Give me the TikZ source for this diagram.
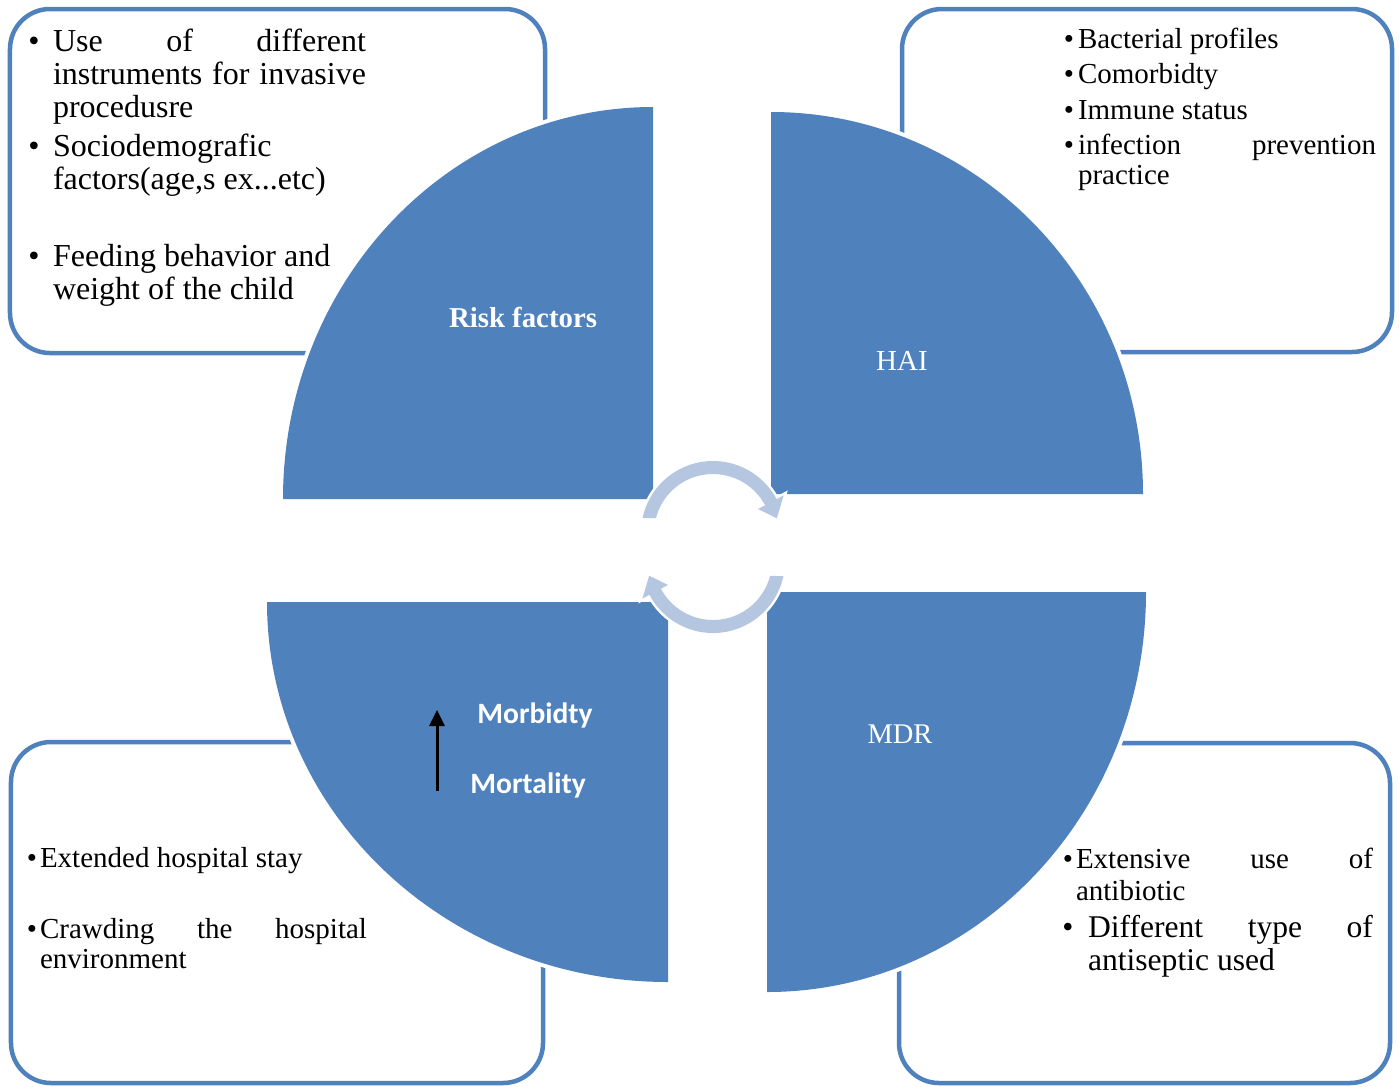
\documentclass[tikz,border=0pt]{standalone}
\usepackage{fontspec}
\setmainfont{Liberation Serif}
\newfontfamily\calibri{Carlito}
\usetikzlibrary{arrows.meta}
\definecolor{mainblue}{HTML}{4F81BD}
\definecolor{cycblue}{HTML}{B4C6E0}
\begin{document}
\begin{tikzpicture}[x=1bp,y=1bp,
  box/.style={draw=mainblue, line width=4.5bp, rounded corners=40bp, fill=white, inner sep=0pt},
  quad/.style={fill=mainblue, preaction={draw=white, line width=8bp}},
  cyc/.style={fill=cycblue, preaction={draw=white, line width=5bp}},
  ln/.style={anchor=base west, inner sep=0pt, outer sep=0pt},
  bul/.style={anchor=base, inner sep=0pt, outer sep=0pt},
  fA/.style={font=\fontsize{32bp}{33bp}\selectfont},
  fB/.style={font=\fontsize{29bp}{30bp}\selectfont},
  fC/.style={font=\fontsize{31.6bp}{33bp}\selectfont},
  lab/.style={anchor=base, inner sep=0pt, text=white},
]
\fill[white] (0,0) rectangle (1399,-1086);
\useasboundingbox (0,0) rectangle (1399,-1086);

% boxes
\node[box, minimum width=535bp, minimum height=344bp] (tlbox) at (277.5,-181) {};
\node[box, minimum width=490bp, minimum height=343bp] (trbox) at (1147,-180.5) {};
\node[box, minimum width=532bp, minimum height=341bp] (blbox) at (277,-912.5) {};
\node[box, minimum width=491bp, minimum height=340bp] (brbox) at (1144.5,-913) {};

% quarter shapes
\path[quad] (653,-499) -- (283,-499) arc[start angle=180, end angle=90, x radius=370, y radius=392] -- cycle;
\path[quad] (771,-494) -- (771,-112) arc[start angle=90, end angle=0, x radius=372, y radius=382] -- cycle;
\path[quad] (668,-602) -- (267,-602) arc[start angle=180, end angle=270, x radius=401, y radius=380] -- cycle;
\path[quad] (767,-592) -- (1146,-592) arc[start angle=0, end angle=-90, x radius=379, y radius=400] -- cycle;

% cycle arrows
\begin{scope}[shift={(713,-533)}]
\path[cyc] (167.9:72) arc[start angle=167.9, end angle=28, radius=72] -- (28:80) -- (13:65.5) -- (28:51) -- (28:59) arc[start angle=28, end angle=165.4, radius=59] -- cycle;
\end{scope}
\begin{scope}[shift={(713,-561)}]
\path[cyc] (-12.1:72) arc[start angle=-12.1, end angle=-152, radius=72] -- (-152:80) -- (-167:65.5) -- (-152:51) -- (-152:59) arc[start angle=-152, end angle=-14.6, radius=59] -- cycle;
\end{scope}

% top-left text
\node[bul, fA] (tlb1) at (34,-51) {•};
\node[ln, fA] (tl1) at (53,-51) {\hbox to 313bp{Use\hfill of\hfill different}};
\node[ln, fA] (tl2) at (53,-84) {\hbox to 313bp{instruments\hfill for\hfill invasive}};
\node[ln, fA] (tl3) at (53,-117) {procedusre};
\node[bul, fA] (tlb2) at (34,-156) {•};
\node[ln, fA] (tl4) at (53,-156) {Sociodemografic};
\node[ln, fA] (tl5) at (53,-189) {factors(age,s ex...etc)};
\node[bul, fA] (tlb3) at (34,-266) {•};
\node[ln, fA] (tl6) at (53,-266) {Feeding behavior and};
\node[ln, fA] (tl7) at (53,-299) {weight of the child};

% top-right text
\node[bul, fB] (trb1) at (1069,-48) {•};
\node[ln, fB] (tr1) at (1078,-48) {Bacterial profiles};
\node[bul, fB] (trb2) at (1069,-83) {•};
\node[ln, fB] (tr2) at (1078,-83) {Comorbidty};
\node[bul, fB] (trb3) at (1069,-119) {•};
\node[ln, fB] (tr3) at (1078,-119) {Immune status};
\node[bul, fB] (trb4) at (1069,-154) {•};
\node[ln, fB] (tr4) at (1078,-154) {\hbox to 298bp{infection\hfill prevention}};
\node[ln, fB] (tr5) at (1078,-184) {practice};

% bottom-left text
\node[bul, fB] (blb1) at (32,-867) {•};
\node[ln, fB] (bl1) at (40,-867) {Extended hospital stay};
\node[bul, fB] (blb2) at (32,-938) {•};
\node[ln, fB] (bl2) at (40,-938) {\hbox to 327bp{Crawding\hfill the\hfill hospital}};
\node[ln, fB] (bl3) at (40,-968) {environment};

% bottom-right text
\node[bul, fB] (brb1) at (1068,-868) {•};
\node[ln, fB] (br1) at (1076,-868) {\hbox to 297bp{Extensive\hfill use\hfill of}};
\node[ln, fB] (br2) at (1076,-900) {antibiotic};
\node[bul, fC] (brb2) at (1068,-937) {•};
\node[ln, fC] (br3) at (1088,-937) {\hbox to 285bp{Different\hfill type\hfill of}};
\node[ln, fC] (br4) at (1088,-970) {antiseptic used};

% labels
\node[lab, font=\fontsize{28.8bp}{30bp}\selectfont\bfseries] (risk) at (523,-327) {Risk factors};
\node[lab, font=\fontsize{29bp}{30bp}\selectfont] (hai) at (902,-370) {HAI};
\node[lab, font=\fontsize{28.5bp}{30bp}\selectfont] (mdr) at (900,-743) {MDR};
\node[lab, font=\fontsize{29.5bp}{30bp}\calibri\bfseries] (morb) at (535,-723) {Morbidty};
\node[lab, font=\fontsize{29.5bp}{30bp}\calibri\bfseries] (mort) at (528,-793) {Mortality};

\coordinate (arrlow) at (437,-791);
\coordinate (arrhigh) at (437,-710);
\draw[line width=3bp, -{Triangle[width=15bp,length=16bp]}] (arrlow) -- (arrhigh);
\end{tikzpicture}
\end{document}
